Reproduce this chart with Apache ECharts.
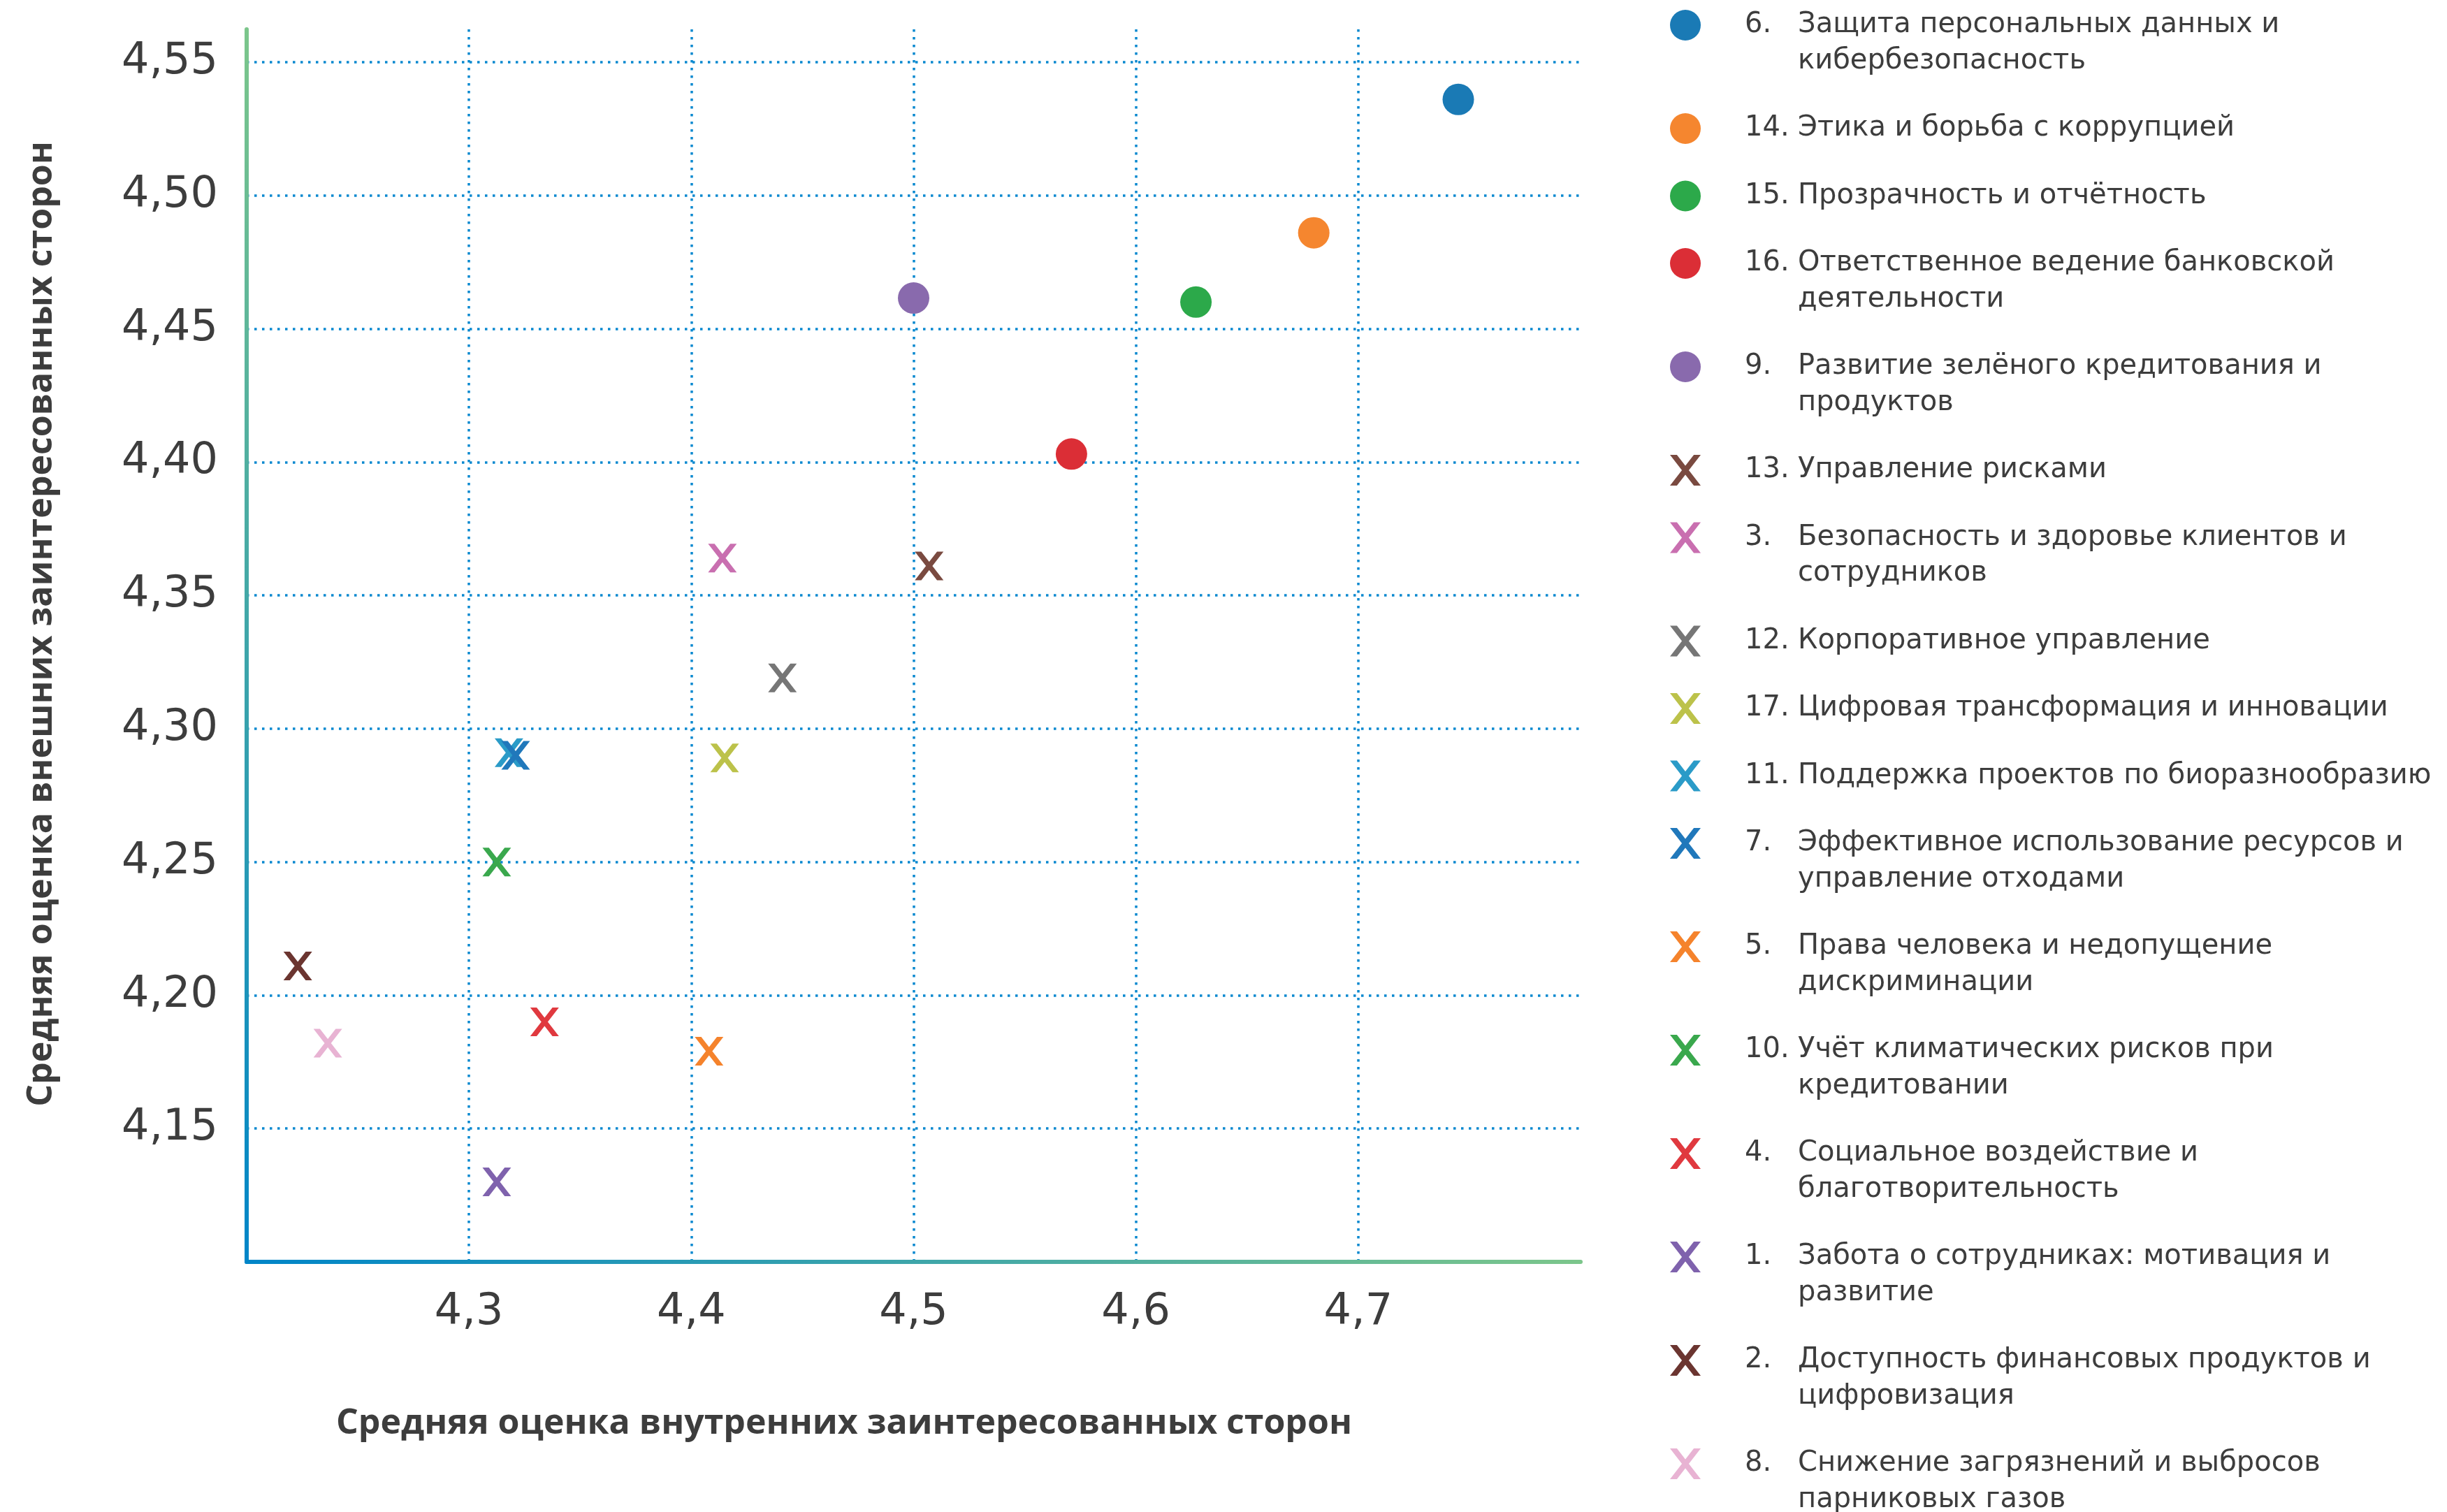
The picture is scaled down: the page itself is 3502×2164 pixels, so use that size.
<!DOCTYPE html>
<html>
<head>
<meta charset="utf-8">
<script src="https://cdn.jsdelivr.net/npm/echarts@6/dist/echarts.min.js"></script>
<style>
  html, body { margin: 0; padding: 0; background: #ffffff; }
  #chart { width: 3502px; height: 2164px; }
</style>
</head>
<body>
<div id="chart"></div>
<script>
// Topics: number, label lines (legend wraps), scores and marker style
const topicNumbers = ['6.', '14.', '15.', '16.', '9.', '13.', '3.', '12.', '17.', '11.', '7.', '5.', '10.', '4.', '1.', '2.', '8.'];
const topicLines = [
  ['Защита персональных данных и', 'кибербезопасность'],
  ['Этика и борьба с коррупцией'],
  ['Прозрачность и отчётность'],
  ['Ответственное ведение банковской', 'деятельности'],
  ['Развитие зелёного кредитования и', 'продуктов'],
  ['Управление рисками'],
  ['Безопасность и здоровье клиентов и', 'сотрудников'],
  ['Корпоративное управление'],
  ['Цифровая трансформация и инновации'],
  ['Поддержка проектов по биоразнообразию'],
  ['Эффективное использование ресурсов и', 'управление отходами'],
  ['Права человека и недопущение', 'дискриминации'],
  ['Учёт климатических рисков при', 'кредитовании'],
  ['Социальное воздействие и', 'благотворительность'],
  ['Забота о сотрудниках: мотивация и', 'развитие'],
  ['Доступность финансовых продуктов и', 'цифровизация'],
  ['Снижение загрязнений и выбросов', 'парниковых газов']
];
// Average score of internal stakeholders (x) and external stakeholders (y)
const internalScore = [4.745, 4.680, 4.627, 4.571, 4.500, 4.507, 4.414, 4.441, 4.415, 4.318, 4.321, 4.408, 4.3125, 4.334, 4.3125, 4.223, 4.2365];
const externalScore = [4.536, 4.486, 4.460, 4.403, 4.4615, 4.361, 4.364, 4.319, 4.289, 4.291, 4.290, 4.179, 4.250, 4.190, 4.130, 4.211, 4.182];
const markerKind = ['dot', 'dot', 'dot', 'dot', 'dot', 'cross', 'cross', 'cross', 'cross', 'cross', 'cross', 'cross', 'cross', 'cross', 'cross', 'cross', 'cross'];
const topicColors = ['#1a7ab5', '#f5862f', '#2ca94a', '#db2e36', '#896aad', '#7a4a40', '#c96fb0', '#767676', '#bcc24a', '#2a9bc8', '#2078bb', '#f5832c', '#3aa84d', '#e0393f', '#7f62ad', '#6b3530', '#e8b3d3'];

// Axis ticks
const xTickValues = [4.3, 4.4, 4.5, 4.6, 4.7];
const yTickValues = [4.15, 4.20, 4.25, 4.30, 4.35, 4.40, 4.45, 4.50, 4.55];

const TEXT = '#3d3d3d';
const GRID_COLOR = '#0788cf';
// Filled "x" marker: two crossing bars with flat ends
const CROSS = 'path://M0,0L9,0L40,40L31,40ZM31,0L40,0L9,40L0,40Z';
const seriesNames = topicNumbers.map((n, i) => n + ' ' + topicLines[i].join(' '));

const fmt = (v, d) => v.toFixed(d).replace('.', ',');

const series = seriesNames.map((name, i) => {
  const isDot = markerKind[i] === 'dot';
  return {
    type: 'scatter',
    name: name,
    data: [[internalScore[i], externalScore[i]]],
    symbol: isDot ? 'circle' : CROSS,
    symbolSize: isDot ? 45 : 41,
    symbolKeepAspect: true,
    itemStyle: { color: topicColors[i], opacity: 1, borderWidth: 0 },
    emphasis: { disabled: true }
  };
});

// One legend block per topic so that the marker lines up with the first text line
const LINE_H = 51.5, ITEM_GAP = 45, FIRST_CENTER = 36, ICON = 44;
const legends = [];
let center = FIRST_CENTER;
seriesNames.forEach((name, i) => {
  const lines = topicLines[i];
  const n = lines.length;
  const isDot = markerKind[i] === 'dot';
  const richBase = { fontFamily: 'DejaVu Sans', fontSize: 40, color: TEXT, lineHeight: LINE_H };
  legends.push({
    show: true,
    left: 2390,
    top: center - ICON / 2,
    padding: 0,
    itemGap: 0,
    itemWidth: ICON,
    itemHeight: ICON,
    selectedMode: false,
    data: [{
      name: name,
      icon: isDot ? 'circle' : CROSS,
      itemStyle: { color: topicColors[i], borderWidth: 0 }
    }],
    formatter: () => lines.map((l, k) => '{n|' + (k === 0 ? topicNumbers[i] : ' ') + '}{t|' + l + '}').join('\n'),
    textStyle: {
      padding: [n === 2 ? LINE_H : 0, 0, 0, 58],
      rich: {
        n: Object.assign({ width: 76 }, richBase),
        t: Object.assign({}, richBase)
      }
    }
  });
  center += n * LINE_H + ITEM_GAP;
});

const chart = echarts.init(document.getElementById('chart'), null, { renderer: 'canvas' });

chart.setOption({
  backgroundColor: '#ffffff',
  animation: false,
  grid: { left: 353, right: 1240, top: 42, bottom: 358, containLabel: false },
  xAxis: {
    type: 'value',
    min: 4.2,
    max: 4.8,
    interval: 0.1,
    axisLine: {
      show: true,
      onZero: false,
      lineStyle: {
        width: 6,
        color: new echarts.graphic.LinearGradient(0, 0, 1, 0, [
          { offset: 0, color: '#0085c8' },
          { offset: 1, color: '#7cc68b' }
        ])
      }
    },
    axisTick: { show: false },
    axisLabel: {
      showMinLabel: false,
      showMaxLabel: false,
      margin: 42,
      fontFamily: 'DejaVu Sans',
      fontSize: 62,
      color: TEXT,
      formatter: v => {
        const k = xTickValues.findIndex(t => Math.abs(t - v) < 1e-6);
        return k < 0 ? '' : fmt(xTickValues[k], 1);
      }
    },
    splitLine: {
      show: true,
      showMinLine: false,
      showMaxLine: false,
      lineStyle: { color: GRID_COLOR, width: 3.5, type: [3.5, 7.5] }
    }
  },
  yAxis: {
    type: 'value',
    min: 4.10,
    max: 4.5623,
    interval: 0.05,
    axisLine: {
      show: true,
      onZero: false,
      lineStyle: {
        width: 6,
        color: new echarts.graphic.LinearGradient(0, 1, 0, 0, [
          { offset: 0, color: '#0085c8' },
          { offset: 1, color: '#7cc68b' }
        ])
      }
    },
    axisTick: { show: false },
    axisLabel: {
      showMinLabel: false,
      showMaxLabel: false,
      margin: 41,
      fontFamily: 'DejaVu Sans',
      fontSize: 62,
      color: TEXT,
      formatter: v => {
        const k = yTickValues.findIndex(t => Math.abs(t - v) < 1e-6);
        return k < 0 ? '' : fmt(yTickValues[k], 2);
      }
    },
    splitLine: {
      show: true,
      showMinLine: false,
      showMaxLine: false,
      lineStyle: { color: GRID_COLOR, width: 3.5, type: [3.5, 7.5] }
    }
  },
  legend: legends,
  graphic: [
    {
      type: 'text',
      x: 1208,
      y: 2038,
      style: {
        text: 'Средняя оценка внутренних заинтересованных сторон',
        font: 'bold 50px "Open Sans"',
        fill: TEXT,
        align: 'center',
        verticalAlign: 'middle'
      }
    },
    {
      type: 'text',
      x: 60,
      y: 893,
      rotation: Math.PI / 2,
      style: {
        text: 'Средняя оценка внешних заинтересованных сторон',
        font: 'bold 50px "Open Sans"',
        fill: TEXT,
        align: 'center',
        verticalAlign: 'middle'
      }
    }
  ],
  series: series
});
</script>
</body>
</html>
